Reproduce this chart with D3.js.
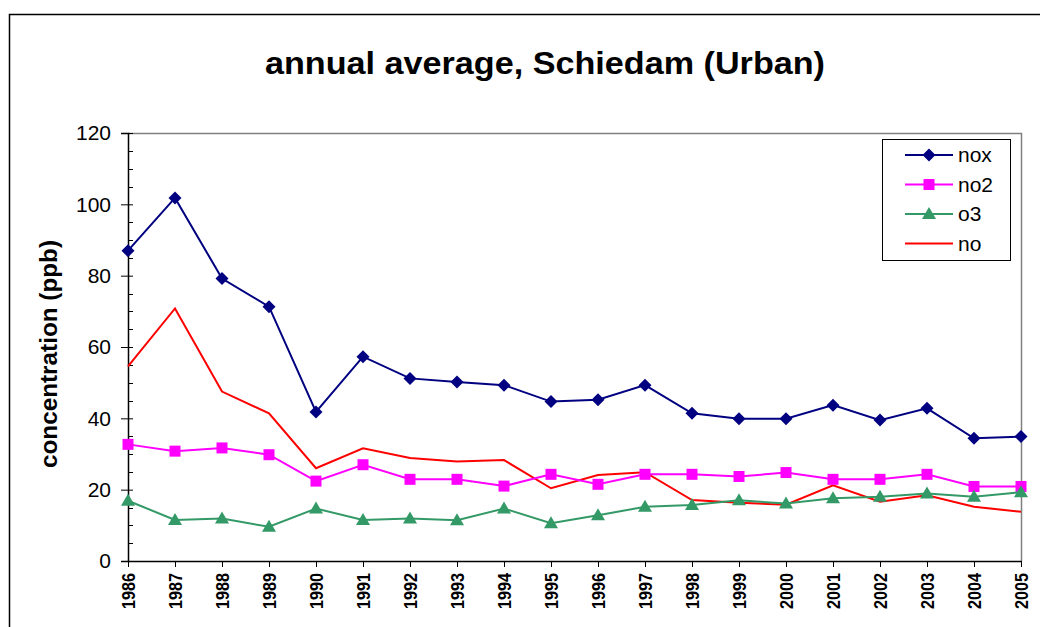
<!DOCTYPE html>
<html>
<head>
<meta charset="utf-8">
<script src="https://cdn.jsdelivr.net/npm/d3@7"></script>
<style>
  body { margin: 0; background: #fff; }
  svg { display: block; font-family: "Liberation Sans", Arial, sans-serif; }
</style>
</head>
<body>
<div id="chart"></div>
<script>
// data
var years = [1986, 1987, 1988, 1989, 1990, 1991, 1992, 1993, 1994, 1995,
             1996, 1997, 1998, 1999, 2000, 2001, 2002, 2003, 2004, 2005];
var nox = [87, 101.8, 79.2, 71.3, 41.8, 57.3, 51.2, 50.2, 49.3, 44.7,
           45.2, 49.3, 41.4, 39.9, 39.9, 43.7, 39.5, 42.8, 34.4, 34.9];
var no2 = [32.7, 30.8, 31.7, 29.8, 22.4, 27, 22.9, 22.9, 21, 24.3,
           21.5, 24.3, 24.3, 23.7, 24.8, 22.9, 22.9, 24.3, 20.9, 20.9];
var o3 = [16.9, 11.5, 11.9, 9.6, 14.7, 11.5, 11.9, 11.4, 14.7, 10.6,
          12.8, 15.2, 15.7, 17, 16.1, 17.6, 18, 18.9, 18, 19.3];
var no = [54.6, 70.8, 47.5, 41.4, 26, 31.6, 28.9, 27.9, 28.3, 20.4,
          24.1, 24.9, 17.1, 16.3, 15.8, 21.2, 16.6, 18.4, 15.2, 13.8];
var yTicks = [0, 20, 40, 60, 80, 100, 120];

var series = [
  { name: "nox", values: nox, color: "#000080", marker: "diamond", width: 2 },
  { name: "no2", values: no2, color: "#ff00ff", marker: "square", width: 2 },
  { name: "o3", values: o3, color: "#339966", marker: "triangle", width: 2 },
  { name: "no", values: no, color: "#ff0000", marker: null, width: 2 }
];

var W = 1040, H = 627;
var plot = { left: 128, top: 133, right: 1021, bottom: 561 };

var svg = d3.select("#chart").append("svg")
    .attr("width", W)
    .attr("height", H);

// outer chart border (runs off the right and bottom edges)
svg.append("rect")
    .attr("x", 9.5).attr("y", 14.5)
    .attr("width", W + 20).attr("height", H + 20)
    .attr("fill", "#fff")
    .attr("stroke", "#000")
    .attr("stroke-width", 1.5);

var x = d3.scalePoint().domain(years).range([plot.left, plot.right]);
var y = d3.scaleLinear().domain([0, 120]).range([plot.bottom, plot.top]);

// plot area border (gray top and right)
svg.append("path")
    .attr("d", "M" + plot.left + "," + (plot.top + 0.5) + "H" + (plot.right + 0.5) + "V" + plot.bottom)
    .attr("fill", "none")
    .attr("stroke", "#808080")
    .attr("stroke-width", 1.5);

// title
svg.append("text")
    .attr("x", 545)
    .attr("y", 74)
    .attr("text-anchor", "middle")
    .attr("textLength", 560)
    .attr("lengthAdjust", "spacingAndGlyphs")
    .style("font-size", "32px")
    .style("font-weight", "bold")
    .text("annual average, Schiedam (Urban)");

// y axis title
svg.append("text")
    .attr("transform", "translate(57," + 354 + ") rotate(-90)")
    .attr("text-anchor", "middle")
    .attr("textLength", 228)
    .attr("lengthAdjust", "spacingAndGlyphs")
    .style("font-size", "23px")
    .style("font-weight", "bold")
    .text("concentration (ppb)");

// minor ticks on y (inside)
var minor = d3.range(0, 121, 5).filter(function(d) { return d % 20 !== 0; });
svg.append("g")
    .selectAll("line")
    .data(minor)
    .enter().append("line")
    .attr("x1", plot.left).attr("x2", plot.left + 5)
    .attr("y1", function(d) { return Math.round(y(d)) + 0.5; })
    .attr("y2", function(d) { return Math.round(y(d)) + 0.5; })
    .attr("stroke", "#000");

// y axis
var yAxis = d3.axisLeft(y).tickValues(yTicks).tickSize(7).tickPadding(10);
var gy = svg.append("g")
    .attr("transform", "translate(" + plot.left + ",0)")
    .call(yAxis);
gy.select(".domain").attr("stroke", "#000").attr("stroke-width", 1.5);
gy.selectAll(".tick line").attr("x2", 5).attr("x1", -7);
gy.selectAll(".tick text")
    .style("font-size", "21px")
    .style("font-family", '"Liberation Sans", Arial, sans-serif')
    .attr("fill", "#000");

// x axis
var xAxis = d3.axisBottom(x).tickSize(6).tickSizeOuter(0);
var gx = svg.append("g")
    .attr("transform", "translate(0," + plot.bottom + ")")
    .call(xAxis);
gx.select(".domain").attr("stroke", "#000").attr("stroke-width", 1.5);
gx.selectAll(".tick text")
    .attr("transform", "rotate(-90)")
    .attr("x", -12)
    .attr("y", 0)
    .attr("dy", "0.36em")
    .attr("textLength", 36)
    .attr("lengthAdjust", "spacingAndGlyphs")
    .style("text-anchor", "end")
    .style("font-size", "18px")
    .style("font-weight", "bold")
    .style("font-family", '"Liberation Sans", Arial, sans-serif')
    .attr("fill", "#000");

// lines
var line = d3.line()
    .x(function(d, i) { return x(years[i]); })
    .y(function(d) { return y(d); });

function markerPath(type) {
  if (type === "diamond") return "M0,-6.5L6.5,0L0,6.5L-6.5,0Z";
  if (type === "square") return "M-5.5,-5.5H5.5V5.5H-5.5Z";
  if (type === "triangle") return "M0,-7L7,5L-7,5Z";
  return null;
}

var drawOrder = [series[3], series[0], series[1], series[2]];
drawOrder.forEach(function(s) {
  svg.append("path")
      .datum(s.values)
      .attr("fill", "none")
      .attr("stroke", s.color)
      .attr("stroke-width", s.width)
      .attr("d", line);
  if (s.marker) {
    svg.append("g")
        .selectAll("path")
        .data(s.values)
        .enter().append("path")
        .attr("transform", function(d, i) { return "translate(" + x(years[i]) + "," + y(d) + ")"; })
        .attr("d", markerPath(s.marker))
        .attr("fill", s.color);
  }
});

// legend
var lg = svg.append("g").attr("transform", "translate(882,139)");
lg.append("rect")
    .attr("x", 0.5).attr("y", 0.5)
    .attr("width", 128).attr("height", 121)
    .attr("fill", "#fff")
    .attr("stroke", "#000")
    .attr("stroke-width", 1);

var item = lg.selectAll(".legend-item")
    .data(series)
    .enter().append("g")
    .attr("class", "legend-item")
    .attr("transform", function(d, i) { return "translate(0," + (16 + i * 29.5) + ")"; });

item.append("line")
    .attr("x1", 23).attr("x2", 71)
    .attr("stroke", function(d) { return d.color; })
    .attr("stroke-width", 2);

item.filter(function(d) { return d.marker; })
    .append("path")
    .attr("transform", "translate(47,0)")
    .attr("d", function(d) { return markerPath(d.marker); })
    .attr("fill", function(d) { return d.color; });

item.append("text")
    .attr("x", 76)
    .attr("dy", "0.35em")
    .style("font-size", "21px")
    .text(function(d) { return d.name; });
</script>
</body>
</html>
